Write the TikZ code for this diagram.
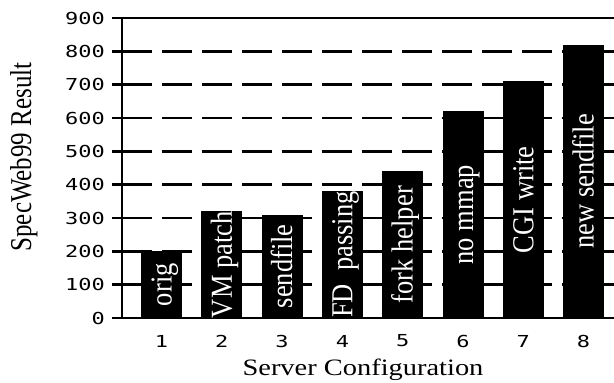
\documentclass[tikz,border=0pt]{standalone}
\usepackage{fontspec}
\setmainfont{Liberation Serif}
\newfontfamily\tickfont{DejaVu Sans Mono}
\usepackage{graphicx}
\begin{document}
\begin{tikzpicture}[x=1pt,y=-1pt,
  axisline/.style={line width=2.4pt},
  gridline/.style={line width=2.4pt, dash pattern=on 30pt off 10pt},
  barfill/.style={fill=black},
  barlabel/.style={rotate=90, anchor=base, inner sep=0pt, text=white,
    font=\fontsize{26.5}{26.5}\selectfont},
  ticklabel/.style={inner sep=0pt, font=\tickfont\fontsize{16.5}{16.5}\selectfont},
  titlelabel/.style={inner sep=0pt, anchor=base}
]
\useasboundingbox (0,0) rectangle (614,383);
% grid lines (dashed) and ticks
\foreach \v in {100,200,...,800}{
  \draw[gridline] (122,{318-\v/3}) -- (614,{318-\v/3});
  \draw[axisline] (112,{318-\v/3}) -- (122,{318-\v/3});
}
% bars
\foreach \i/\v in {1/200,2/320,3/310,4/380,5/440,6/620,7/710,8/820}{
  \pgfmathsetmacro{\cx}{161.5+60.3*(\i-1)}
  \fill[barfill] ({\cx-20.5},318) rectangle ({\cx+20.5},{318-\v/3});
}
% axes
\draw[axisline] (112,18) -- (614,18);
\draw[axisline] (112,318) -- (614,318);
\draw[axisline] (122,18) -- (122,318);
% bar labels
\foreach \i/\v/\t in {1/200/orig,2/320/VM patch,3/310/sendfile,4/380/FD~~passing,5/440/fork helper,6/620/no mmap,7/710/CGI write,8/820/new sendfile}{
  \pgfmathsetmacro{\cx}{161.5+60.3*(\i-1)}
  \node[barlabel] (bl\i) at ({\cx+10},{318-\v/6}) {\scalebox{1}[1.15]{\t}};
  \node[ticklabel] (xt\i) at (\cx,341) {\scalebox{1.33}[1]{\i}};
}
% y tick labels
\foreach \v in {0,100,...,900}{
  \node[ticklabel, anchor=east] (yt\v) at (105,{318-\v/3}) {\scalebox{1.33}[1]{\v}};
}
% titles
\node[titlelabel, rotate=90, font=\fontsize{25}{25}\selectfont] (ytitle) at (31,157) {\scalebox{1}[1.21]{SpecWeb99 Result}};
\node[titlelabel, font=\fontsize{23.5}{23.5}\selectfont] (xtitle) at (363,375) {\scalebox{1.21}[1]{Server Configuration}};
\end{tikzpicture}
\end{document}
